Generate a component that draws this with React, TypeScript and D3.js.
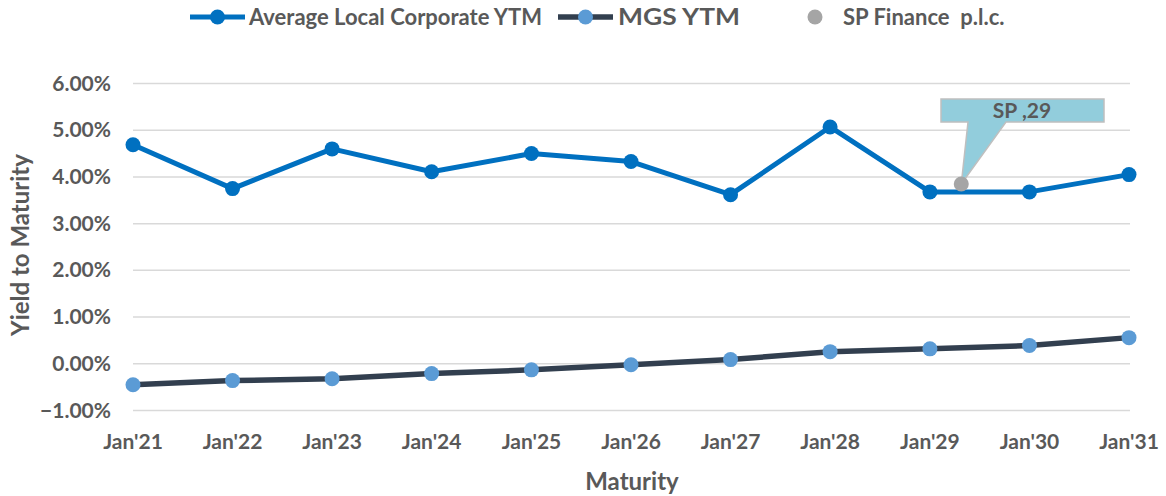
import * as d3 from "d3";
import { useEffect, useRef } from "react";

const maturities = ["2021-01-01", "2022-01-01", "2023-01-01", "2024-01-01", "2025-01-01", "2026-01-01",
  "2027-01-01", "2028-01-01", "2029-01-01", "2030-01-01", "2031-01-01"];
const tickLabels = ["Jan'21", "Jan'22", "Jan'23", "Jan'24", "Jan'25", "Jan'26", "Jan'27", "Jan'28", "Jan'29", "Jan'30", "Jan'31"];
const corporateYtm = [4.69, 3.75, 4.6, 4.11, 4.5, 4.33, 3.62, 5.07, 3.68, 3.68, 4.05];
const mgsYtm = [-0.45, -0.36, -0.32, -0.21, -0.13, -0.02, 0.09, 0.26, 0.32, 0.39, 0.56];
const spMaturity = "2029-04-26";
const spYtm = 3.85;
const spLabel = "SP ,29";
const yTicks = [-1, 0, 1, 2, 3, 4, 5, 6];

const FONT = "Lato, 'Open Sans', sans-serif";
const TEXT = "#595959";
const CORP = "#0070C0";
const MGS_LINE = "#323F4F";
const MGS_DOT = "#5B9BD5";
const SP_DOT = "#A5A5A5";

export default function App() {
  const ref = useRef<SVGSVGElement>(null);

  useEffect(() => {
    if (!ref.current) return;
    const svg = d3.select(ref.current);
    svg.selectAll("*").remove();

    const width = 1166;
    const height = 496;
    svg.attr("width", width).attr("height", height);

    const parse = d3.timeParse("%Y-%m-%d");
    const dates = maturities.map(d => parse(d) as Date);

    const x = d3.scaleTime().domain([dates[0], dates[dates.length - 1]]).range([133, 1129]);
    const y = d3.scaleLinear().domain([-1, 6]).range([410.5, 83.5]);

    // gridlines
    svg.append("g")
      .selectAll("line")
      .data(yTicks)
      .join("line")
      .attr("x1", 133)
      .attr("x2", 1130)
      .attr("y1", d => y(d))
      .attr("y2", d => y(d))
      .attr("stroke", "#D9D9D9")
      .attr("stroke-width", 1.5);

    // y tick labels
    svg.append("g")
      .selectAll("text")
      .data(yTicks)
      .join("text")
      .attr("x", 111)
      .attr("y", d => y(d) + 7)
      .attr("text-anchor", "end")
      .attr("font-family", FONT)
      .attr("font-weight", "bold")
      .attr("font-size", 21)
      .attr("fill", TEXT)
      .text(d => d3.format(".2f")(d) + "%");

    // x tick labels
    svg.append("g")
      .selectAll("text")
      .data(dates)
      .join("text")
      .attr("x", d => x(d))
      .attr("y", 449)
      .attr("text-anchor", "middle")
      .attr("font-family", FONT)
      .attr("font-weight", "bold")
      .attr("font-size", 21)
      .attr("fill", TEXT)
      .text((_, i) => tickLabels[i]);

    // axis titles
    svg.append("text")
      .attr("x", 632)
      .attr("y", 490)
      .attr("text-anchor", "middle")
      .attr("font-family", FONT)
      .attr("font-weight", "bold")
      .attr("font-size", 24)
      .attr("fill", TEXT)
      .text("Maturity");

    svg.append("text")
      .attr("transform", "translate(29,245) rotate(-90)")
      .attr("text-anchor", "middle")
      .attr("font-family", FONT)
      .attr("font-weight", "bold")
      .attr("font-size", 24)
      .attr("fill", TEXT)
      .text("Yield to Maturity");

    const line = d3.line<number>()
      .x((_, i) => x(dates[i]))
      .y(d => y(d));

    // MGS series
    svg.append("path")
      .attr("d", line(mgsYtm))
      .attr("fill", "none")
      .attr("stroke", MGS_LINE)
      .attr("stroke-width", 5.5)
      .attr("stroke-linejoin", "round");
    svg.append("g")
      .selectAll("circle")
      .data(mgsYtm)
      .join("circle")
      .attr("cx", (_, i) => x(dates[i]))
      .attr("cy", d => y(d))
      .attr("r", 7.5)
      .attr("fill", MGS_DOT);

    // Corporate series
    svg.append("path")
      .attr("d", line(corporateYtm))
      .attr("fill", "none")
      .attr("stroke", CORP)
      .attr("stroke-width", 5)
      .attr("stroke-linejoin", "round");
    svg.append("g")
      .selectAll("circle")
      .data(corporateYtm)
      .join("circle")
      .attr("cx", (_, i) => x(dates[i]))
      .attr("cy", d => y(d))
      .attr("r", 7.5)
      .attr("fill", CORP);

    // SP Finance point + callout
    const spX = x(parse(spMaturity) as Date);
    const spY = y(spYtm);
    const box = { x0: 941, x1: 1104, y0: 99, y1: 122 };
    svg.append("path")
      .attr("d", `M${box.x0},${box.y0}H${box.x1}V${box.y1}H${1006}L${spX},${spY}L${968},${box.y1}H${box.x0}Z`)
      .attr("fill", "#92CDDC")
      .attr("stroke", "#BFBFBF")
      .attr("stroke-width", 1.5);
    svg.append("text")
      .attr("x", 1022)
      .attr("y", 118)
      .attr("text-anchor", "middle")
      .attr("font-family", FONT)
      .attr("font-weight", "bold")
      .attr("font-size", 21)
      .attr("fill", TEXT)
      .text(spLabel);
    svg.append("circle")
      .attr("cx", spX)
      .attr("cy", spY)
      .attr("r", 7.5)
      .attr("fill", SP_DOT);

    // legend
    const legend = svg.append("g").attr("font-family", FONT).attr("font-weight", "bold")
      .attr("font-size", 22).attr("fill", TEXT);

    const l1 = legend.append("g").attr("transform", "translate(190,17)");
    l1.append("line").attr("x1", 0).attr("x2", 55).attr("stroke", CORP).attr("stroke-width", 5);
    l1.append("circle").attr("cx", 27.5).attr("r", 7.5).attr("fill", CORP);
    l1.append("text").attr("x", 59).attr("y", 8).text("Average Local Corporate YTM");

    const l2 = legend.append("g").attr("transform", "translate(558,17)");
    l2.append("line").attr("x1", 0).attr("x2", 55).attr("stroke", MGS_LINE).attr("stroke-width", 5.5);
    l2.append("circle").attr("cx", 27.5).attr("r", 7.5).attr("fill", MGS_DOT);
    l2.append("text").attr("x", 60).attr("y", 8).attr("textLength", 122)
      .attr("lengthAdjust", "spacingAndGlyphs").text("MGS YTM");

    const l3 = legend.append("g").attr("transform", "translate(815,17)");
    l3.append("circle").attr("cx", 0).attr("r", 7.5).attr("fill", SP_DOT);
    l3.append("text").attr("x", 28).attr("y", 8).attr("xml:space", "preserve").text("SP Finance  p.l.c.");
  }, []);

  return <svg ref={ref} style={{ display: "block", position: "absolute", left: 0, top: 0 }} />;
}
